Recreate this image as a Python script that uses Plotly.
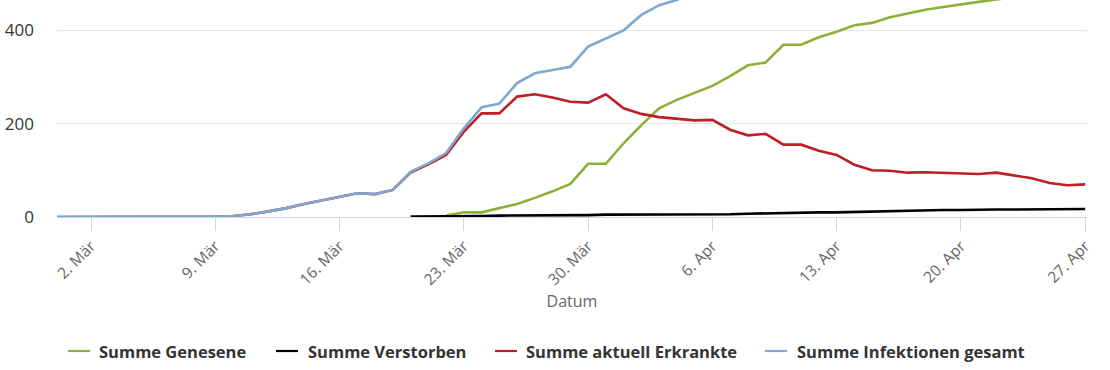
import plotly.graph_objects as go
import pandas as pd

dates = pd.date_range("2020-02-29", "2020-04-27", freq="D")

# Summe Infektionen gesamt (Feb 29 .. Apr 27)
infektionen = [0, 0, 0, 0, 1, 1, 1, 1, 1, 1,
               2, 6, 12, 19, 28, 36, 44, 51, 49, 58,
               97, 115, 137, 190, 235, 243, 287, 308, 315, 322,
               365, 383, 400, 433, 454, 465, 485, 500, 505, 512,
               522, 535, 538, 541, 544, 546, 548, 550, 553, 556,
               559, 562, 566, 569, 572, 574, 576, 578, 580]

# Summe aktuell Erkrankte
erkrankte = [0, 0, 0, 0, 1, 1, 1, 1, 1, 1,
             2, 6, 12, 19, 28, 36, 44, 51, 49, 58,
             95, 113, 133, 183, 222, 222, 258, 263, 256, 247,
             245, 263, 233, 221, 214, 210, 207, 208, 187, 175,
             178, 155, 155, 142, 133, 112, 100, 99, 95, 96,
             95, 94, 92, 95, 89, 83, 73, 68, 70]

# Summe Genesene (starts Mar 22)
genesene = [None] * 22 + [3, 10, 10, 19, 28, 41, 55, 71,
                          114, 114, 158, 197, 233, 251, 266, 281, 302, 325,
                          331, 369, 369, 385, 397, 411, 416, 428, 436, 444,
                          450, 456, 461, 466, 472, 478, 482, 487, 490]

# Summe Verstorben (starts Mar 20)
verstorben = [None] * 20 + [1, 1, 2, 2, 2, 3, 3, 3, 4, 4,
                            4, 5, 5, 5, 5, 5, 5, 5, 6, 7,
                            8, 9, 9, 10, 10, 11, 11, 12, 13, 14,
                            15, 15, 16, 16, 16, 16, 17, 17, 17]

tick_dates = ["2020-03-02", "2020-03-09", "2020-03-16", "2020-03-23", "2020-03-30",
              "2020-04-06", "2020-04-13", "2020-04-20", "2020-04-27"]
tick_labels = ["2. Mär", "9. Mär", "16. Mär", "23. Mär", "30. Mär",
               "6. Apr", "13. Apr", "20. Apr", "27. Apr"]

series_names = ["Summe Genesene", "Summe Verstorben",
                "Summe aktuell Erkrankte", "Summe Infektionen gesamt"]
series_values = [genesene, verstorben, erkrankte, infektionen]
series_colors = ["#8db03a", "#000000", "#bf1e24", "#7fa7cf"]

# legend layout (pixel positions of symbol start / text start, in figure px)
legend_symbol_px = [68, 276, 495, 765]
legend_text_px = [97, 306, 524, 795]

W, H = 1110, 370
ML, MR, MT, MB = 57, 23, 0, 153
PW, PH = W - ML - MR, H - MT - MB

fig = go.Figure()
for name, vals, col in zip(series_names, series_values, series_colors):
    fig.add_trace(go.Scatter(x=dates, y=vals, name=name, mode="lines",
                             line=dict(color=col, width=2.6), showlegend=False))

font_family = "Open Sans, DejaVu Sans, sans-serif"

legend_y_px = 351
ly = (PH - (legend_y_px - MT)) / PH
shapes = []
annotations = []
for name, col, sx, tx in zip(series_names, series_colors, legend_symbol_px, legend_text_px):
    shapes.append(dict(type="line", xref="paper", yref="paper",
                       x0=(sx - ML) / PW, x1=(sx + 22 - ML) / PW, y0=ly, y1=ly,
                       line=dict(color=col, width=2.2)))
    annotations.append(dict(xref="paper", yref="paper", x=(tx - ML) / PW, y=ly,
                            xanchor="left", yanchor="middle", showarrow=False,
                            text="<b>" + name + "</b>",
                            font=dict(size=16.5, color="#333333", family=font_family)))

fig.update_layout(
    width=W, height=H,
    margin=dict(l=ML, r=MR, t=MT, b=MB),
    plot_bgcolor="white", paper_bgcolor="white",
    font=dict(family=font_family),
    showlegend=False,
    shapes=shapes,
    annotations=annotations,
    xaxis=dict(
        type="date",
        range=["2020-02-29 02:00", "2020-04-27 02:30"],
        tickvals=tick_dates, ticktext=tick_labels,
        tickangle=-45,
        tickfont=dict(size=15.5, color="#666666"),
        ticks="outside", ticklen=13, tickcolor="#ccd6eb",
        showline=True, linecolor="#ccd6eb", linewidth=1,
        showgrid=False, zeroline=False,
        title=dict(text="Datum", font=dict(size=16, color="#666666"), standoff=7),
        automargin=False,
    ),
    yaxis=dict(
        range=[0, 465],
        tickvals=[0, 200, 400],
        tickfont=dict(size=17, color="#333333"),
        showgrid=True, gridcolor="#e6e6e6", gridwidth=1,
        zeroline=False, showline=False,
        ticks="", ticklabelstandoff=22,
        automargin=False,
    ),
)

fig.write_html("out.html", config={"displayModeBar": False},
               post_script="document.body.style.margin='0';")
